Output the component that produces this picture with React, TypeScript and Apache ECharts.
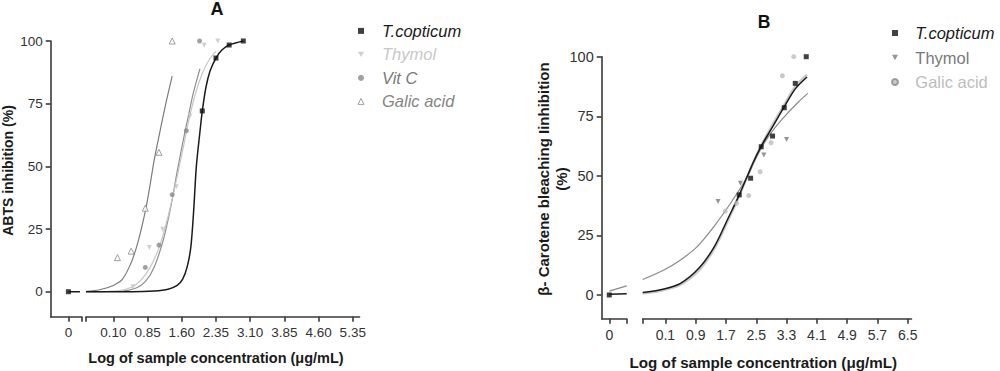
import React, { useEffect, useRef } from 'react';
import * as echarts from 'echarts';

const FONT = '"Liberation Sans", Arial, Helvetica, sans-serif';

// ---------- ticks ----------
const yTicks = [0, 25, 50, 75, 100];
const zeroTick = [0];
const xTicksA = [0.1, 0.85, 1.6, 2.35, 3.1, 3.85, 4.6, 5.35];
const xTicksB = [0.1, 0.9, 1.7, 2.5, 3.3, 4.1, 4.9, 5.7, 6.5];

// ---------- Panel A (ABTS) : measured points ----------
const aTcopZero = [[0, 0]];
const aTcopPts = [[2.05, 72.1], [2.35, 93.2], [2.64, 98.4], [2.95, 100]];
const aThymolPts = [[0.53, 2], [0.89, 17.6], [1.18, 24.9], [1.48, 41.9], [1.78, 70.1], [2.09, 98.3], [2.39, 100]];
const aVitCPts = [[0.8, 9.7], [1.1, 18.6], [1.39, 38.7], [1.7, 64.2], [1.99, 100]];
const aGalicPts = [[0.19, 13.6], [0.49, 16.2], [0.8, 33.3], [1.1, 55.6], [1.39, 100]];

// Panel A fitted curves
const aTcopFitLow = [[0, 0], [0.26, 0]];
const aTcopFit = [[-0.5, 0], [0.5, 0], [1.0, 0.3], [1.3, 1], [1.5, 2.5], [1.62, 5], [1.72, 10], [1.8, 18], [1.86, 32], [1.92, 50], [2.0, 64], [2.05, 72], [2.13, 81.5], [2.22, 88], [2.35, 93.2], [2.48, 96.4], [2.64, 98.4], [2.95, 100]];
const aThymolFit = [[-0.5, 0], [0.2, 0.4], [0.5, 1.8], [0.7, 4.5], [0.9, 9.5], [1.1, 17.5], [1.3, 30], [1.5, 46], [1.65, 59], [1.75, 68], [1.9, 79], [2.05, 87], [2.2, 92.5], [2.35, 96]];
const aVitCFit = [[-0.5, 0], [0.3, 0.3], [0.6, 1.5], [0.8, 4], [1.0, 10], [1.2, 21], [1.35, 33], [1.5, 48], [1.65, 62], [1.75, 70.5], [1.85, 79], [2.0, 89]];
const aGalicFit = [[-0.5, 0.2], [-0.2, 0.8], [0.1, 2.5], [0.3, 5], [0.5, 12], [0.65, 20.5], [0.8, 32], [0.9, 42], [1.0, 53], [1.1, 62], [1.25, 75], [1.39, 86]];

// ---------- Panel B (beta-carotene) : measured points ----------
const bTcopZero = [[0, 0]];
const bTcopPts = [[2.05, 42], [2.35, 49], [2.63, 62.2], [2.93, 66.7], [3.24, 78.6], [3.53, 88.8], [3.82, 100]];
const bThymolPts = [[1.49, 39.2], [2.08, 46.9], [2.7, 58.7], [3.3, 65.3]];
const bGalicPts = [[1.68, 35.2], [1.98, 38.5], [2.3, 41.7], [2.6, 51.7], [2.89, 63.9], [3.19, 92], [3.49, 100]];

// Panel B fitted curves
const bTcopFitLow = [[0, 0.3], [0.46, 0.5]];
const bThymolFitLow = [[0, 1.6], [0.46, 3.8]];
const bTcopFit = [[-0.5, 1], [0, 2.3], [0.5, 4.9], [1.0, 11.5], [1.4, 20.5], [1.75, 32], [2.05, 42], [2.43, 56], [2.65, 63], [2.93, 70.5], [3.24, 79], [3.53, 86.5], [3.84, 91.5]];
const bGalicFit = [[-0.5, 0.6], [0, 1.8], [0.5, 4.3], [1.0, 10.5], [1.4, 19.5], [1.75, 31], [2.05, 41.5], [2.43, 56], [2.65, 63.5], [2.93, 71.5], [3.24, 80], [3.53, 87.5], [3.84, 92.5]];
const bThymolFit = [[-0.5, 6.5], [0.06, 10.5], [0.5, 14.7], [0.94, 20.3], [1.38, 28.7], [1.82, 38.5], [2.26, 49.5], [2.45, 56], [2.7, 63.5], [3.0, 70.3], [3.31, 76], [3.6, 80.8], [3.86, 84.6]];

const AXIS = '#3a3a3a';
const LABEL = '#333333';
const DOWN_TRI = 'path://M0,0 L10,0 L5,9 Z';

function xAx(gridIndex: number, min: number, max: number, ticks: number[], labels: number[], fmt: (v: number) => string, fontSize: number) {
  return {
    type: 'value', gridIndex, min, max,
    splitLine: { show: false },
    axisLine: { show: true, onZero: false, lineStyle: { color: AXIS, width: 1.6 } },
    axisTick: { show: true, customValues: ticks, length: 5, lineStyle: { color: AXIS, width: 1.6 } },
    axisLabel: { show: true, customValues: labels, formatter: fmt, margin: 9, color: LABEL, fontSize, fontFamily: FONT },
  };
}
function yAx(gridIndex: number, show: boolean, fontSize: number) {
  return {
    type: 'value', gridIndex, min: -10, max: 100, show,
    splitLine: { show: false },
    axisLine: { show: true, onZero: false, lineStyle: { color: AXIS, width: 1.6 } },
    axisTick: { show: true, customValues: yTicks, length: 5, lineStyle: { color: AXIS, width: 1.6 } },
    axisLabel: { show: true, customValues: yTicks, margin: 8, color: LABEL, fontSize, fontFamily: FONT },
  };
}
function curve(name: string, xi: number, data: number[][], color: string, width: number, z = 2) {
  return {
    type: 'line', name, xAxisIndex: xi, yAxisIndex: xi, data, showSymbol: false, symbol: 'none',
    smooth: 0.3, lineStyle: { color, width }, z, silent: true,
  };
}
function pts(name: string, xi: number, data: number[][], symbol: string, size: number, itemStyle: any) {
  return {
    type: 'scatter', name, xAxisIndex: xi, yAxisIndex: xi, data, symbol, symbolSize: size,
    itemStyle, clip: false, z: 5,
  };
}

export default function App() {
  const ref = useRef<HTMLDivElement>(null);
  useEffect(() => {
    const chart = echarts.init(ref.current!, null, { renderer: 'svg' });
    const hA = 275.8, tA = 41;
    const hB = 262.1, tB = 56.7;
    const fmt0 = (v: number) => String(v);
    const fmtA = (v: number) => v.toFixed(2);
    const fmtB = (v: number) => v.toFixed(1);
    const option: any = {
      animation: false,
      backgroundColor: '#ffffff',
      grid: [
        { left: 50.7, top: tA, width: 31, height: hA },
        { left: 86, top: tA, width: 273.6, height: hA },
        { left: 601.7, top: tB, width: 25, height: hB },
        { left: 642.7, top: tB, width: 268.8, height: hB },
      ],
      xAxis: [
        xAx(0, -0.4, 0.3, [0, 0.3], zeroTick, fmt0, 13.5),
        xAx(1, -0.5, 5.5, [-0.5, ...xTicksA], xTicksA, fmtA, 13.5),
        xAx(2, -0.2, 0.46, [0, 0.46], zeroTick, fmt0, 14),
        xAx(3, -0.5, 6.6, [-0.5, ...xTicksB], xTicksB, fmtB, 14),
      ],
      yAxis: [yAx(0, true, 13.5), yAx(1, false, 13.5), yAx(2, true, 14.5), yAx(3, false, 14.5)],
      legend: [
        {
          orient: 'vertical', left: 357.5, top: 22.4, itemWidth: 6, itemHeight: 6, itemGap: 6.5, padding: 0,
          selectedMode: false,
          textStyle: { fontSize: 16.5, fontFamily: FONT, fontStyle: 'italic', padding: [0, 0, 0, 13] },
          data: [
            { name: 'T.copticum', icon: 'rect', itemStyle: { color: '#111' }, textStyle: { color: '#1a1a1a' } },
            { name: 'Thymol', icon: DOWN_TRI, itemStyle: { color: '#c4c4c4' }, textStyle: { color: '#c8c8c8' } },
            { name: 'Vit C', icon: 'circle', itemStyle: { color: '#8a8a8a' }, textStyle: { color: '#7a7a7a' } },
            { name: 'Galic acid', icon: 'triangle', itemStyle: { color: '#ffffff', borderColor: '#8a8a8a', borderWidth: 1 }, textStyle: { color: '#858585' } },
          ],
        },
        {
          orient: 'vertical', left: 891, top: 24.5, itemWidth: 6, itemHeight: 6, itemGap: 7.5, padding: 0,
          selectedMode: false,
          textStyle: { fontSize: 16.5, fontFamily: FONT, padding: [0, 0, 0, 12.3] },
          data: [
            { name: 'T.copticum', icon: 'rect', itemStyle: { color: '#111' }, textStyle: { color: '#1a1a1a', fontStyle: 'italic' } },
            { name: 'Thymol', icon: DOWN_TRI, itemStyle: { color: '#7a7a7a' }, textStyle: { color: '#7a7a7a' } },
            { name: 'Galic acid', icon: 'circle', itemStyle: { color: '#bdbdbd' }, textStyle: { color: '#bdbdbd' } },
          ],
        },
      ],
      graphic: [
        { type: 'text', x: 217, y: 8.5, style: { text: 'A', fontSize: 18, fontWeight: 'bold', fontFamily: FONT, fill: '#111', align: 'center', verticalAlign: 'middle' } },
        { type: 'text', x: 764, y: 22, style: { text: 'B', fontSize: 17.5, fontWeight: 'bold', fontFamily: FONT, fill: '#111', align: 'center', verticalAlign: 'middle' } },
        { type: 'text', x: 88.3, y: 358.3, style: { text: 'Log of sample concentration (μg/mL)', fontSize: 14.5, fontWeight: 'bold', fontFamily: FONT, fill: '#1a1a1a', align: 'left', verticalAlign: 'middle' } },
        { type: 'text', x: 763.3, y: 362.7, style: { text: 'Log of sample concentration (μg/mL)', fontSize: 15.2, fontWeight: 'bold', fontFamily: FONT, fill: '#1a1a1a', align: 'center', verticalAlign: 'middle' } },
        { type: 'text', x: 7.5, y: 170.5, rotation: Math.PI / 2, style: { text: 'ABTS inhibition (%)', fontSize: 14, fontWeight: 'bold', fontFamily: FONT, fill: '#1a1a1a', align: 'center', verticalAlign: 'middle' } },
        { type: 'text', x: 552.2, y: 179, rotation: Math.PI / 2, style: { text: 'β- Carotene bleaching Iinhibition\n(%)', fontSize: 15, lineHeight: 18, fontWeight: 'bold', fontFamily: FONT, fill: '#1a1a1a', align: 'center', verticalAlign: 'middle' } },
      ],
      series: [
        // Panel A, left segment
        curve('T.copticum curve A0', 0, aTcopFitLow, '#1a1a1a', 1.5),
        pts('T.copticum', 0, aTcopZero, 'rect', 5, { color: '#111' }),
        // Panel A, main segment
        curve('Galic acid curve A', 1, aGalicFit, '#7c7c7c', 1.2),
        curve('Vit C curve A', 1, aVitCFit, '#8e8e8e', 1.2),
        curve('Thymol curve A', 1, aThymolFit, '#c6c6c6', 1.2),
        curve('T.copticum curve A', 1, aTcopFit, '#1a1a1a', 1.5, 3),
        pts('Galic acid', 1, aGalicPts, 'triangle', 6, { color: '#ffffff', borderColor: '#8a8a8a', borderWidth: 1 }),
        pts('Vit C', 1, aVitCPts, 'circle', 5, { color: '#8a8a8a' }),
        pts('Thymol', 1, aThymolPts, DOWN_TRI, 5, { color: '#c4c4c4' }),
        pts('T.copticum', 1, aTcopPts, 'rect', 5, { color: '#111' }),
        // Panel B, left segment
        curve('Thymol curve B0', 2, bThymolFitLow, '#8a8a8a', 1.2),
        curve('T.copticum curve B0', 2, bTcopFitLow, '#1a1a1a', 1.5),
        pts('T.copticum', 2, bTcopZero, 'rect', 5, { color: '#111' }),
        // Panel B, main segment
        curve('Galic acid curve B', 3, bGalicFit, '#c8c8c8', 2.2),
        curve('Thymol curve B', 3, bThymolFit, '#8a8a8a', 1.2),
        curve('T.copticum curve B', 3, bTcopFit, '#1a1a1a', 1.5, 3),
        pts('Galic acid', 3, bGalicPts, 'circle', 5, { color: '#bdbdbd' }),
        pts('Thymol', 3, bThymolPts, DOWN_TRI, 5, { color: '#7a7a7a' }),
        pts('T.copticum', 3, bTcopPts, 'rect', 5, { color: '#111' }),
      ],
    };
    chart.setOption(option);
    return () => chart.dispose();
  }, []);
  return <div ref={ref} style={{ position: 'absolute', left: 0, top: 0, width: 1000, height: 371, background: '#fff' }} />;
}
